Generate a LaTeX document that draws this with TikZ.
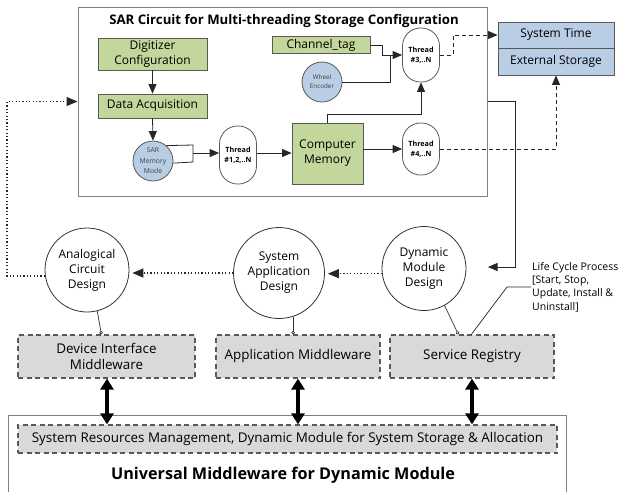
\documentclass[tikz,border=0pt]{standalone}
\usepackage{fontspec}
\setmainfont{Open Sans}
\usetikzlibrary{arrows.meta,calc}
\definecolor{grn}{HTML}{C3D69B}
\definecolor{blu}{HTML}{B9CDE5}
\definecolor{gry}{HTML}{D9D9D9}
\definecolor{edgec}{HTML}{595959}
\definecolor{framec}{HTML}{7F7F7F}
\begin{document}
\begin{tikzpicture}[x=1pt,y=-1pt,
  greenbox/.style={draw=edgec, line width=0.9pt, fill=grn, inner sep=1pt, align=center, font=\fontsize{12}{15}\selectfont},
  bluebox/.style={draw=edgec, line width=0.9pt, fill=blu, inner sep=1pt, align=center, minimum width=116pt, font=\fontsize{12}{15}\selectfont},
  bluecirc/.style={circle, draw=edgec, line width=0.8pt, fill=blu, inner sep=0pt, align=center, text=black!75},
  threadnode/.style={draw=edgec, line width=0.8pt, rounded corners=18pt, fill=white, minimum width=37pt, inner sep=0pt, align=center, font=\bfseries\fontsize{7.2}{10.5}\selectfont},
  designcirc/.style={circle, draw=black!80, line width=0.8pt, fill=white, inner sep=0pt, align=center, font=\fontsize{12}{15}\selectfont},
  graybox/.style={draw=edgec, dash pattern=on 5pt off 3.5pt, line width=1.2pt, fill=gry, inner sep=1pt, align=center, font=\fontsize{13.4}{16}\selectfont},
  frame/.style={draw=framec, line width=1pt, fill=white},
  arr/.style={-{Triangle[length=9.5pt,width=8pt]}, line width=0.8pt, draw=black!85},
  plain/.style={line width=0.8pt, draw=black!85},
  dasharr/.style={arr, dash pattern=on 4pt off 3pt},
  dotarr/.style={-{Triangle[length=11pt,width=9pt]}, line width=1.2pt, draw=black!85, dash pattern=on 1.2pt off 2.2pt},
  lolli/.style={-{Circle[open,length=3.5pt,width=3.5pt]}, line width=0.7pt, draw=black!80},
  dbl/.style={{Triangle[length=11pt,width=13pt]}-{Triangle[length=11pt,width=13pt]}, line width=3.4pt, draw=black}
]
\useasboundingbox (0,0) rectangle (621,491);
\clip (0,0) rectangle (621,491);
\fill[white] (0,0) rectangle (621,491);

% ---------- SAR circuit frame ----------
\node[frame, minimum width=409pt, minimum height=189pt] (sar) at (282.5,101.5) {};
\node[font=\bfseries\fontsize{13.2}{15}\selectfont] (sartitle) at (284,21) {SAR Circuit for Multi-threading Storage Configuration};

\node[greenbox, minimum width=109pt, minimum height=32pt] (digi) at (152.5,54) {Digitizer\\Configuration};
\node[greenbox, minimum width=109pt, minimum height=24pt] (daq) at (152.5,106) {Data Acquisition};
\node[bluecirc, minimum size=40pt, font=\fontsize{6.8}{10.5}\selectfont] (sarmem) at (153,161) {SAR\\Memory\\Mode};
\node[threadnode, minimum height=58pt] (thr1) at (238,155) {Thread\\\#1,2,..N};
\node[greenbox, minimum width=71pt, minimum height=61pt] (comp) at (327.5,153.5) {Computer\\Memory};
\node[threadnode, minimum height=52pt] (thr4) at (421,149) {Thread\\\#4,..N};
\node[threadnode, minimum height=54pt] (thr3) at (421,55) {Thread\\\#3,..N};
\node[greenbox, minimum width=98pt, minimum height=17pt] (chan) at (321,45) {Channel\_tag};
\node[bluecirc, minimum size=40pt, font=\fontsize{6.3}{9}\selectfont] (wheel) at (322,82) {Wheel\\Encoder};

\node[bluebox, minimum height=26pt] (systime) at (556,35) {System Time};
\node[bluebox, minimum height=27pt] (ext) at (556,61.5) {External Storage};

% connectors inside SAR
\draw[arr] (digi.south) -- (daq.north);
\draw[arr] (daq.south) -- (sarmem.north);
\coordinate (br) at (193,153);
\draw[plain] (sarmem.49) -- (193,145) -- (193,162) -- (sarmem.-6);
\draw[arr] (br) -- (br -| thr1.west);
\draw[arr] (thr1.east |- br) -- (comp.west |- br);
\draw[arr] (comp.east |- thr4.west) -- (thr4.west);
\draw[arr] (comp.north) -- ++(0,-8) -| (thr3.south);
\coordinate (jn) at (382,55);
\draw[arr] (chan.east) -| (jn) -- (thr3.west);
\draw[plain] (wheel.east) -| (390,55);
\draw[dasharr] (thr3.east) -- (453,55) |- (systime.west);
\draw[dasharr] (thr4.east) -| (ext.south);

% ---------- design circles ----------
\node[designcirc, minimum size=84pt] (anal) at (87,270) {Analogical\\Circuit\\Design};
\node[designcirc, minimum size=91pt] (sysapp) at (279,273) {System\\Application\\Design};
\node[designcirc, minimum size=84pt] (dyn) at (424,268.5) {Dynamic\\Module\\Design};

\node[anchor=west, align=left, inner sep=1pt, font=\fontsize{10.5}{13.3}\selectfont] (life) at (531,287) {Life Cycle Process\\{}[Start, Stop,\\Update, Install \&\\Uninstall]};

\coordinate (lcend) at (488,267);
\draw[arr] (sar.east) -- ++(28,0) |- (lcend);

\draw[dotarr, shorten >=3pt] (dyn.187) -- (sysapp.east |- dyn.187);
\draw[dotarr, shorten >=3pt] (sysapp.west) -- (anal.east |- sysapp.west);
\draw[dotarr] (anal.188) -- ++(-38,0) |- (sar.west);

% ---------- middleware boxes ----------
\node[graybox, minimum width=177pt, minimum height=43pt] (devbox) at (106.5,356.5) {Device Interface\\Middleware};
\node[graybox, minimum width=164pt, minimum height=43pt] (appbox) at (298,356.5) {Application Middleware};
\node[graybox, minimum width=164pt, minimum height=43pt] (srvbox) at (472,356.5) {Service Registry};

\draw[lolli] (anal.-76) -- ([xshift=84pt]devbox.north west);
\draw[lolli] (sysapp.-72) -- (sysapp.-72 |- appbox.north);
\draw[lolli] (dyn.-61) -- ([xshift=69pt]srvbox.north west);
\draw[plain, line width=0.7pt] (life.west) -- ++(-24,0) -- ([xshift=82pt]srvbox.north west);

% ---------- universal middleware ----------
\node[frame, minimum width=558pt, minimum height=100pt] (univ) at (287,465) {};
\node[graybox, minimum width=539pt, minimum height=28pt] (sysres) at (287.5,439) {System Resources Management, Dynamic Module for System Storage \& Allocation};
\node[font=\bfseries\fontsize{16.2}{18}\selectfont] (univtitle) at (283,475) {Universal Middleware for Dynamic Module};

\draw[dbl] (devbox.south -| 107,0) -- (sysres.north -| 107,0);
\draw[dbl] (appbox.south) -- (sysres.north -| appbox.south);
\draw[dbl] (srvbox.south) -- (sysres.north -| srvbox.south);
\end{tikzpicture}
\end{document}
